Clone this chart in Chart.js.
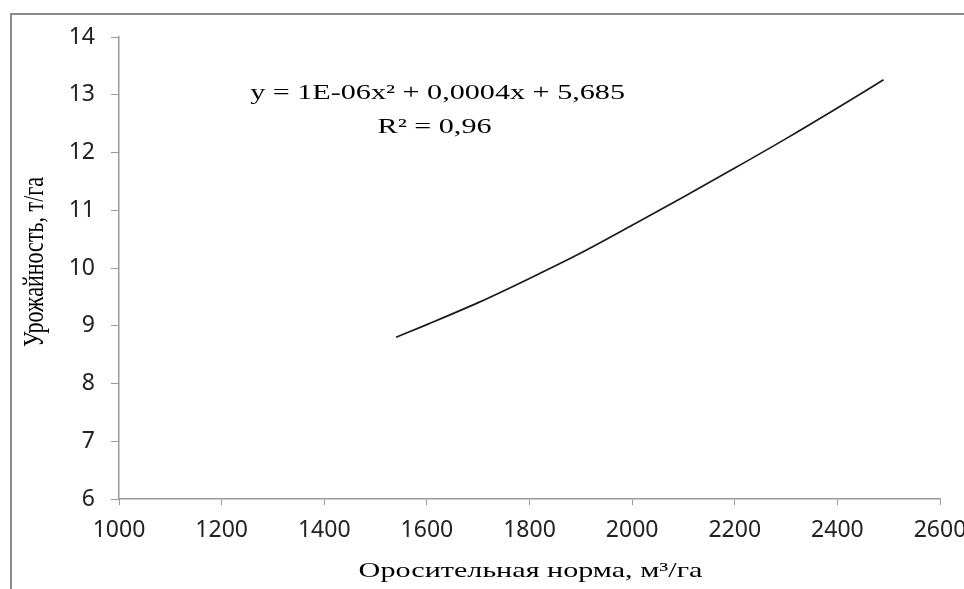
<!DOCTYPE html>
<html>
<head>
<meta charset="utf-8">
<script src="https://cdn.jsdelivr.net/npm/chart.js@4.4.1/dist/chart.umd.min.js"></script>
<style>
  html, body { margin: 0; padding: 0; background: #ffffff; }
  #wrap { width: 964px; height: 589px; position: relative; }
</style>
</head>
<body>
<div id="wrap"><canvas id="chart" width="964" height="589"></canvas></div>
<script>
// Irrigation norm (m³/ha) and the fitted yield curve (t/ha)
const irrigationNorm = [1540, 1600, 1700, 1800, 1900, 2000, 2100, 2200, 2300, 2400, 2490];
const cropYield      = [8.80, 9.02, 9.40, 9.82, 10.26, 10.74, 11.23, 11.73, 12.24, 12.77, 13.26];

// Axis ranges and tick steps
const xRange = [1000, 2600];
const xStep = 200;
const yRange = [6, 14];
const yStep = 1;

// Texts
const xTitle = 'Оросительная норма, м³/га';
const yTitle = 'Урожайность, т/га';
const equationLines = ['y = 1E-06x² + 0,0004x + 5,685', 'R² = 0,96'];

const axisGray = '#9a9a9a';
const tickFont = { family: '"Noto Sans", sans-serif', size: 23 };
const serifFont = '"Liberation Serif", "Times New Roman", serif';
const textStretch = 1.37;   // serif captions are set in a wide, stretched face

// White page with the chart's outer frame (left and top edges)
const framePlugin = {
  id: 'frame',
  beforeDraw(chart) {
    const ctx = chart.ctx;
    ctx.save();
    ctx.fillStyle = '#ffffff';
    ctx.fillRect(0, 0, chart.width, chart.height);
    ctx.strokeStyle = '#8c8c8c';
    ctx.lineWidth = 2;
    ctx.beginPath();
    ctx.moveTo(11, chart.height + 2);
    ctx.lineTo(11, 14);
    ctx.lineTo(chart.width + 2, 14);
    ctx.stroke();
    ctx.restore();
  }
};

function stretchedText(ctx, text, x, y, rotation) {
  ctx.save();
  ctx.translate(x, y);
  ctx.rotate(rotation);
  if (rotation === 0) ctx.scale(textStretch, 1);
  else ctx.scale(1, textStretch);
  ctx.fillText(text, 0, 0);
  ctx.restore();
}

// Axis titles, trendline equation and R²
const captionsPlugin = {
  id: 'captions',
  afterDraw(chart) {
    const { ctx, chartArea } = chart;
    const w = chartArea.right - chartArea.left;
    const h = chartArea.bottom - chartArea.top;
    ctx.save();
    ctx.fillStyle = '#000000';
    ctx.font = '22px ' + serifFont;
    ctx.textAlign = 'center';
    ctx.textBaseline = 'middle';
    // equation block
    const ex = chartArea.left + w * 0.388;
    const ey = chartArea.top + h * 0.121;
    stretchedText(ctx, equationLines[0], ex, ey, 0);
    stretchedText(ctx, equationLines[1], ex - 3, ey + 34, 0);
    // x axis title
    stretchedText(ctx, xTitle, chartArea.left + w / 2 + 1, chartArea.bottom + 72, 0);
    // y axis title
    stretchedText(ctx, yTitle, 35, chartArea.top + h / 2 - 6, -Math.PI / 2);
    ctx.restore();
  }
};

new Chart(document.getElementById('chart'), {
  type: 'line',
  data: {
    datasets: [{
      data: irrigationNorm.map((x, i) => ({ x, y: cropYield[i] })),
      borderColor: '#1a1a1a',
      borderWidth: 1.7,
      pointRadius: 0,
      fill: false,
      cubicInterpolationMode: 'monotone'
    }]
  },
  options: {
    responsive: false,
    animation: false,
    layout: { padding: { left: 0, top: 37, right: 24, bottom: 0 } },
    plugins: { legend: { display: false }, tooltip: { enabled: false } },
    scales: {
      x: {
        type: 'linear',
        min: xRange[0], max: xRange[1],
        ticks: {
          stepSize: xStep,
          color: '#222222',
          font: tickFont,
          padding: 12,
          maxRotation: 0,
          callback: v => String(v)
        },
        grid: { drawOnChartArea: false, drawTicks: true, tickLength: 6, color: axisGray },
        border: { color: axisGray, width: 1.5 },
        afterFit(scale) {
          scale.height = 90;
          scale.paddingLeft = 0;
          scale.paddingRight = 0;
        }
      },
      y: {
        type: 'linear',
        min: yRange[0], max: yRange[1],
        ticks: {
          stepSize: yStep,
          color: '#222222',
          font: tickFont,
          padding: 16
        },
        grid: { drawOnChartArea: false, drawTicks: true, tickLength: 8, color: axisGray },
        border: { color: axisGray, width: 1.5 },
        afterFit(scale) {
          scale.width = 119;
          scale.paddingTop = 0;
          scale.paddingBottom = 0;
        }
      }
    }
  },
  plugins: [framePlugin, captionsPlugin]
});
</script>
</body>
</html>
